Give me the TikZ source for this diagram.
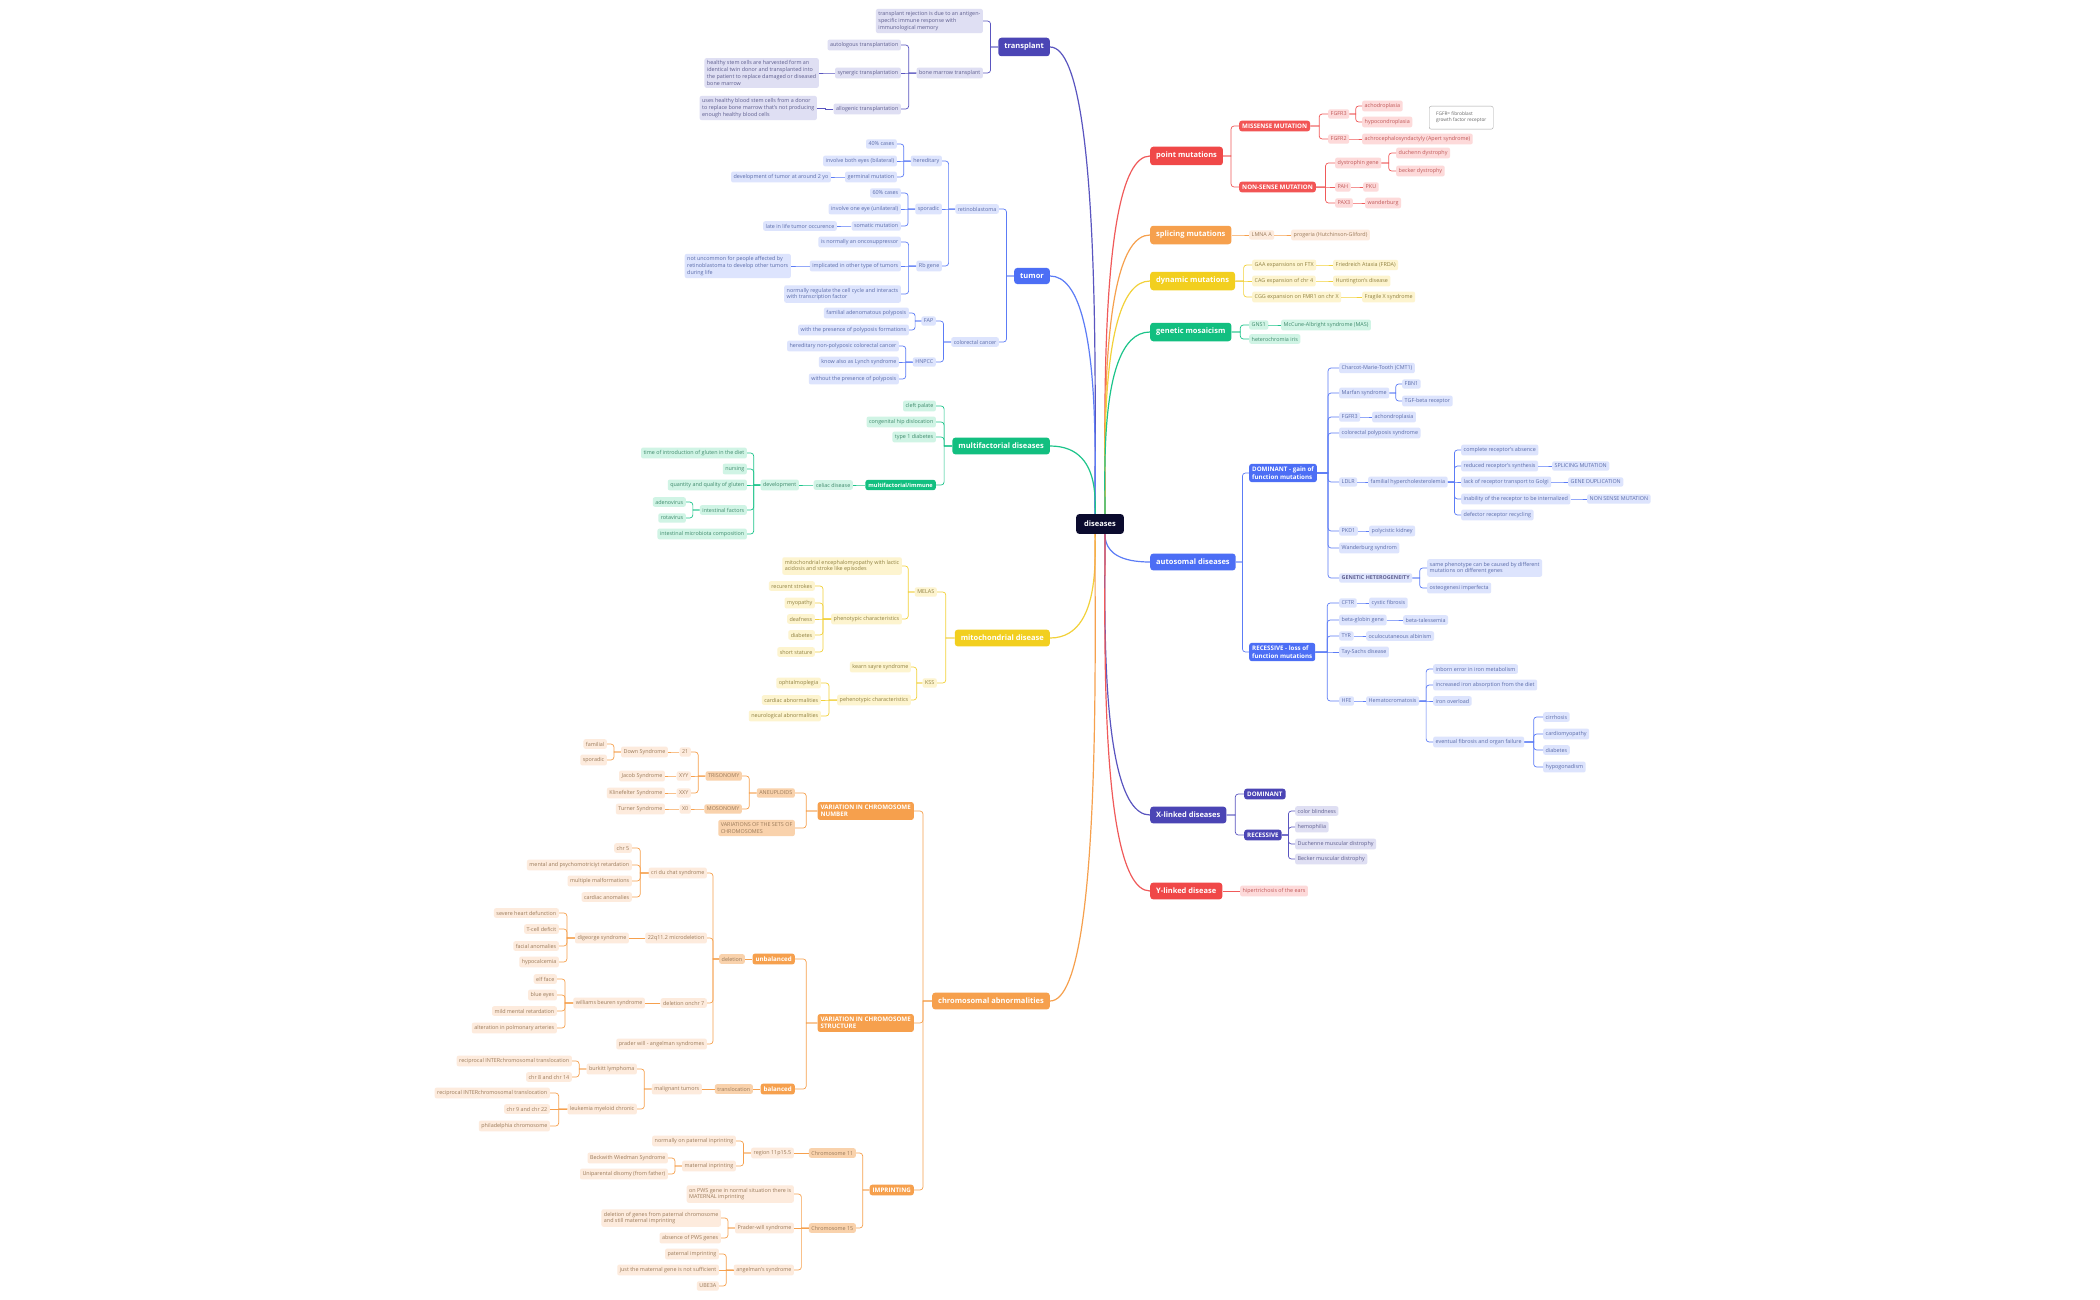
\documentclass[tikz,border=0pt]{standalone}
\usepackage{fontspec}
\setmainfont{Open Sans}
\usetikzlibrary{calc}
\definecolor{Pm}{HTML}{4B45B5}\definecolor{Pf}{HTML}{DFDFF3}\definecolor{Pt}{HTML}{5E5E8E}\definecolor{Pc}{HTML}{5A55C0}
\definecolor{Bm}{HTML}{4C6EF5}\definecolor{Bf}{HTML}{DDE4FD}\definecolor{Bt}{HTML}{5A6BA8}\definecolor{Bc}{HTML}{5C7CF6}
\definecolor{Rm}{HTML}{F04848}\definecolor{Rs}{HTML}{F25555}\definecolor{Rf}{HTML}{FDDADA}\definecolor{Rt}{HTML}{C05858}\definecolor{Rc}{HTML}{F05A5A}
\definecolor{Om}{HTML}{F6A04D}\definecolor{Omid}{HTML}{F9D2AC}\definecolor{Of}{HTML}{FDEBDD}\definecolor{Ot}{HTML}{9A7A5A}\definecolor{Oc}{HTML}{F6A04D}
\definecolor{Ym}{HTML}{F2CF1F}\definecolor{Yf}{HTML}{FDF4CF}\definecolor{Yt}{HTML}{8F8040}\definecolor{Yc}{HTML}{F2D13A}
\definecolor{Gm}{HTML}{12BF80}\definecolor{Gf}{HTML}{D0F4E5}\definecolor{Gt}{HTML}{3F8A6C}\definecolor{Gc}{HTML}{1CC48A}
\definecolor{Dk}{HTML}{0B0B2E}
\newcommand\NL[4]{\node[#1,anchor=east] (#2) at (#3) {#4};}
\newcommand\NR[4]{\node[#1,anchor=west] (#2) at (#3) {#4};}
\newcommand\CL[3]{\draw[#1] let \p1=(#2.west),\p2=(#3.east),\n1={abs(\y1-\y2)<1.5?0:3} in (\p1) -- ({(\x1+\x2)/2},\y1) [rounded corners=\n1] -- ({(\x1+\x2)/2},\y2) -- (\p2);}
\newcommand\CR[3]{\draw[#1] let \p1=(#2.east),\p2=(#3.west),\n1={abs(\y1-\y2)<1.5?0:3} in (\p1) -- ({(\x1+\x2)/2},\y1) [rounded corners=\n1] -- ({(\x1+\x2)/2},\y2) -- (\p2);}
\tikzset{
 base/.style={rounded corners=2pt,inner xsep=2.5pt,inner ysep=2.7pt,font=\fontsize{5.4}{6.7}\selectfont,align=left},
 mainn/.style={rounded corners=3pt,inner xsep=6pt,inner ysep=5.5pt,font=\fontsize{7.5}{9}\selectfont\bfseries,text=white},
 strong/.style={rounded corners=2.5pt,inner xsep=3pt,inner ysep=3pt,font=\fontsize{6.2}{7.4}\selectfont\bfseries,text=white,align=left},
 P/.style={base,fill=Pf,text=Pt}, B/.style={base,fill=Bf,text=Bt}, R/.style={base,fill=Rf,text=Rt},
 O/.style={base,fill=Of,text=Ot}, OM/.style={base,fill=Omid,text=Ot}, Y/.style={base,fill=Yf,text=Yt}, G/.style={base,fill=Gf,text=Gt},
 pl/.style={draw=Pc,line width=0.7pt}, bl/.style={draw=Bc,line width=0.7pt},
 rl/.style={draw=Rc,line width=0.7pt}, ol/.style={draw=Oc,line width=0.7pt},
 yl/.style={draw=Yc,line width=0.7pt}, gl/.style={draw=Gc,line width=0.7pt},
 curve/.style={line width=1.2pt},
}
\begin{document}
\begin{tikzpicture}[x=1pt,y=-1pt]
\useasboundingbox[fill=white] (0,0) rectangle (2100,1300);
% ---------- main nodes
\NL{mainn,fill=Pm}{tr}{1050,47}{transplant}
\NL{mainn,fill=Bm}{tu}{1050,276}{tumor}
\NL{mainn,fill=Gm}{mf}{1050,446}{multifactorial diseases}
\NL{mainn,fill=Ym}{mi}{1050,638}{mitochondrial disease}
\NL{mainn,fill=Om}{ch}{1050,1001}{chromosomal abnormalities}
\NR{mainn,fill=Rm}{pm}{1150,156}{point mutations}
\NR{mainn,fill=Om}{sp}{1150,235}{splicing mutations}
\NR{mainn,fill=Ym}{dy}{1150,281}{dynamic mutations}
\NR{mainn,fill=Gm}{gm}{1150,332}{genetic mosaicism}
\NR{mainn,fill=Bm}{au}{1150,562}{autosomal diseases}
\NR{mainn,fill=Pm}{xl}{1150,815}{X-linked diseases}
\NR{mainn,fill=Rm}{yl}{1150,891}{Y-linked disease}
\coordinate (DL) at (1096,524); \coordinate (DR) at (1104,524);
\foreach \n/\c in {tr/Pc,tu/Bc,mf/Gc,mi/Yc,ch/Om}
 \draw[curve,draw=\c] (DL) .. controls +(-5,0) and +(60,0) .. (\n.east);
\foreach \n/\c in {pm/Rc,sp/Om,dy/Yc,gm/Gc,au/Bc,xl/Pc,yl/Rc}
 \draw[curve,draw=\c] (DR) .. controls +(5,0) and +(-60,0) .. (\n.west);
\node[mainn,fill=Dk,inner xsep=8pt,inner ysep=7pt] (D) at (1100,524) {diseases};
% ---------- transplant
\NL{P}{tr1}{983,21}{transplant rejection is due to an antigen-\\specific immune response with\\immunological memory}
\NL{P}{tr2}{983,73}{bone marrow transplant}
\NL{P}{tr3}{901,45}{autologous transplantation}
\NL{P}{tr4}{901,73}{synergic transplantation}
\NL{P}{tr5}{901,109}{allogenic transplantation}
\NL{P}{tr6}{819,73}{healthy stem cells are harvested form an\\identical twin donor and transplanted into\\the patient to replace damaged or diseased\\bone marrow}
\NL{P}{tr7}{817,108}{uses healthy blood stem cells from a donor\\to replace bone marrow that's not producing\\enough healthy blood cells}
\CL{pl}{tr}{tr1}\CL{pl}{tr}{tr2}\CL{pl}{tr2}{tr3}\CL{pl}{tr2}{tr4}\CL{pl}{tr2}{tr5}\CL{pl}{tr4}{tr6}\CL{pl}{tr5}{tr7}
% ---------- tumor
\NL{B}{rb}{999,209}{retinoblastoma}
\NL{B}{cc}{999,342}{colorectal cancer}
\NL{B}{he}{942,161}{hereditary}
\NL{B}{so}{942,209}{sporadic}
\NL{B}{rg}{942,266}{Rb gene}
\NL{B}{h1}{897,144}{40\% cases}
\NL{B}{h2}{897,161}{involve both eyes (bilateral)}
\NL{B}{h3}{897,177}{germinal mutation}
\NL{B}{h4}{831,177}{development of tumor at around 2 yo}
\NL{B}{s1}{901,193}{60\% cases}
\NL{B}{s2}{901,209}{involve one eye (unilateral)}
\NL{B}{s3}{901,226}{somatic mutation}
\NL{B}{s4}{837,226}{late in life tumor occurence}
\NL{B}{r1}{901,242}{is normally an oncosuppressor}
\NL{B}{r2}{901,266}{implicated in other type of tumors}
\NL{B}{r3}{901,294}{normally regulate the cell cycle and interacts\\with transcription factor}
\NL{B}{r4}{791,266}{not uncommon for people affected by\\retinoblastoma to develop other tumors\\during life}
\NL{B}{fap}{936,321}{FAP}
\NL{B}{hn}{936,362}{HNPCC}
\NL{B}{f1}{909,313}{familial adenomatous polyposis}
\NL{B}{f2}{909,330}{with the presence of polyposis formations}
\NL{B}{n1}{899,346}{hereditary non-polyposic colorectal cancer}
\NL{B}{n2}{899,362}{know also as Lynch syndrome}
\NL{B}{n3}{899,379}{without the presence of polyposis}
\CL{bl}{tu}{rb}\CL{bl}{tu}{cc}\CL{bl}{rb}{he}\CL{bl}{rb}{so}\CL{bl}{rb}{rg}
\CL{bl}{he}{h1}\CL{bl}{he}{h2}\CL{bl}{he}{h3}\CL{bl}{h3}{h4}
\CL{bl}{so}{s1}\CL{bl}{so}{s2}\CL{bl}{so}{s3}\CL{bl}{s3}{s4}
\CL{bl}{rg}{r1}\CL{bl}{rg}{r2}\CL{bl}{rg}{r3}\CL{bl}{r2}{r4}
\CL{bl}{cc}{fap}\CL{bl}{cc}{hn}\CL{bl}{fap}{f1}\CL{bl}{fap}{f2}\CL{bl}{hn}{n1}\CL{bl}{hn}{n2}\CL{bl}{hn}{n3}
% ---------- multifactorial
\NL{G}{m1}{936,406}{cleft palate}
\NL{G}{m2}{936,422}{congenital hip dislocation}
\NL{G}{m3}{936,437}{type 1 diabetes}
\NL{strong,fill=Gm,font=\fontsize{5.6}{7}\selectfont\bfseries}{mim}{936,485}{multifactorial/immune}
\NL{G}{cel}{853,485}{celiac disease}
\NL{G}{dev}{799,485}{development}
\NL{G}{d1}{747,453}{time of introduction of gluten in the diet}
\NL{G}{d2}{747,469}{nursing}
\NL{G}{d3}{747,485}{quantity and quality of gluten}
\NL{G}{d4}{747,510}{intestinal factors}
\NL{G}{d5}{747,534}{intestinal microbiota composition}
\NL{G}{ad}{686,502}{adenovirus}
\NL{G}{ro}{686,518}{rotavirus}
\CL{gl}{mf}{m1}\CL{gl}{mf}{m2}\CL{gl}{mf}{m3}\CL{gl}{mf}{mim}\CL{gl}{mim}{cel}\CL{gl}{cel}{dev}
\CL{gl}{dev}{d1}\CL{gl}{dev}{d2}\CL{gl}{dev}{d3}\CL{gl}{dev}{d4}\CL{gl}{dev}{d5}\CL{gl}{d4}{ad}\CL{gl}{d4}{ro}
% ---------- mitochondrial
\NL{Y}{mel}{937,592}{MELAS}
\NL{Y}{kss}{937,683}{KSS}
\NL{Y}{me1}{902,566}{mitochondrial encephalomyopathy with lactic\\acidosis and stroke like episodes}
\NL{Y}{me2}{902,619}{phenotypic characteristics}
\NL{Y}{p1}{815,586}{recurent strokes}
\NL{Y}{p2}{815,603}{myopathy}
\NL{Y}{p3}{815,619}{deafness}
\NL{Y}{p4}{815,635}{diabetes}
\NL{Y}{p5}{815,652}{short stature}
\NL{Y}{k1}{911,667}{kearn sayre syndrome}
\NL{Y}{k2}{911,700}{pehenotypic characteristics}
\NL{Y}{q1}{821,683}{ophtalmoplegia}
\NL{Y}{q2}{821,700}{cardiac abnormalities}
\NL{Y}{q3}{821,716}{neurological abnormalities}
\CL{yl}{mi}{mel}\CL{yl}{mi}{kss}\CL{yl}{mel}{me1}\CL{yl}{mel}{me2}
\foreach \i in {1,...,5}{\CL{yl}{me2}{p\i}}
\CL{yl}{kss}{k1}\CL{yl}{kss}{k2}\CL{yl}{k2}{q1}\CL{yl}{k2}{q2}\CL{yl}{k2}{q3}
% ---------- chromosomal
\NL{strong,fill=Om}{vn}{914,811}{VARIATION IN CHROMOSOME\\NUMBER}
\NL{strong,fill=Om}{vs}{914,1023}{VARIATION IN CHROMOSOME\\STRUCTURE}
\NL{strong,fill=Om}{imp}{914,1190}{IMPRINTING}
\NL{OM}{an}{795,793}{ANEUPLOIDS}
\NL{OM}{vset}{795,828}{VARIATIONS OF THE SETS OF\\CHROMOSOMES}
\NL{OM}{tri}{742,776}{TRISONOMY}
\NL{OM}{mos}{742,809}{MOSONOMY}
\NL{O}{c21}{691,752}{21}
\NL{O}{xyy}{691,776}{XYY}
\NL{O}{xxy}{691,793}{XXY}
\NL{O}{x0}{691,809}{X0}
\NL{O}{dow}{668,752}{Down Syndrome}
\NL{O}{jac}{665,776}{Jacob Syndrome}
\NL{O}{kli}{665,793}{Klinefelter Syndrome}
\NL{O}{tur}{665,809}{Turner Syndrome}
\NL{O}{fam}{607,744}{familial}
\NL{O}{spo}{607,760}{sporadic}
\CL{ol}{ch}{vn}\CL{ol}{ch}{vs}\CL{ol}{ch}{imp}\CL{ol}{vn}{an}\CL{ol}{vn}{vset}\CL{ol}{an}{tri}\CL{ol}{an}{mos}
\CL{ol}{tri}{c21}\CL{ol}{tri}{xyy}\CL{ol}{tri}{xxy}\CL{ol}{mos}{x0}
\CL{ol}{c21}{dow}\CL{ol}{xyy}{jac}\CL{ol}{xxy}{kli}\CL{ol}{x0}{tur}\CL{ol}{dow}{fam}\CL{ol}{dow}{spo}
\NL{strong,fill=Om}{unb}{795,959}{unbalanced}
\NL{strong,fill=Om}{bal}{795,1089}{balanced}
\NL{OM}{del}{745,959}{deletion}
\NL{O}{cri}{707,873}{cri du chat syndrome}
\NL{O}{q22}{707,938}{22q11.2 microdeletion}
\NL{O}{d7}{707,1003}{deletion onchr 7}
\NL{O}{pwa}{707,1044}{prader will - angelman syndromes}
\NL{O}{c1}{632,848}{chr 5}
\NL{O}{c2}{632,865}{mental and psychomotriciyt retardation}
\NL{O}{c3}{632,881}{multiple malformations}
\NL{O}{c4}{632,897}{cardiac anomalies}
\NL{O}{dig}{629,938}{digeorge syndrome}
\NL{O}{g1}{559,913}{severe heart defunction}
\NL{O}{g2}{559,929}{T-cell deficit}
\NL{O}{g3}{559,946}{facial anomalies}
\NL{O}{g4}{559,962}{hypocalcemia}
\NL{O}{wil}{645,1003}{williams beuren syndrome}
\NL{O}{w1}{557,979}{elf face}
\NL{O}{w2}{557,995}{blue eyes}
\NL{O}{w3}{557,1011}{mild mental retardation}
\NL{O}{w4}{557,1028}{alteration in polmonary arteries}
\CL{ol}{vs}{unb}\CL{ol}{vs}{bal}\CL{ol}{unb}{del}
\CL{ol}{del}{cri}\CL{ol}{del}{q22}\CL{ol}{del}{d7}\CL{ol}{del}{pwa}
\foreach \i in {1,...,4}{\CL{ol}{cri}{c\i}\CL{ol}{dig}{g\i}\CL{ol}{wil}{w\i}}
\CL{ol}{q22}{dig}\CL{ol}{d7}{wil}
\NL{OM}{trl}{753,1089}{translocation}
\NL{O}{mal}{702,1089}{malignant tumors}
\NL{O}{bur}{637,1069}{burkitt lymphoma}
\NL{O}{leu}{637,1109}{leukemia myeloid chronic}
\NL{O}{b1}{572,1061}{reciprocal INTERchromosomal translocation}
\NL{O}{b2}{572,1077}{chr 8 and chr 14}
\NL{O}{l1}{550,1093}{reciprocal INTERchromosomal translocation}
\NL{O}{l2}{550,1109}{chr 9 and chr 22}
\NL{O}{l3}{550,1126}{philadelphia chromosome}
\CL{ol}{bal}{trl}\CL{ol}{trl}{mal}\CL{ol}{mal}{bur}\CL{ol}{mal}{leu}\CL{ol}{bur}{b1}\CL{ol}{bur}{b2}
\CL{ol}{leu}{l1}\CL{ol}{leu}{l2}\CL{ol}{leu}{l3}
\NL{OM}{c11}{856,1153}{Chromosome 11}
\NL{OM}{c15}{856,1228}{Chromosome 15}
\NL{O}{reg}{794,1153}{region 11p15.5}
\NL{O}{np}{736,1141}{normally on paternal inprinting}
\NL{O}{mat}{736,1166}{maternal inprinting}
\NL{O}{bw}{668,1158}{Beckwith Wiedman Syndrome}
\NL{O}{ud}{668,1174}{Uniparental disomy (from father)}
\NL{O}{pws}{794,1194}{on PWS gene in normal situation there is\\MATERNAL imprinting}
\NL{O}{pra}{794,1228}{Prader-will syndrome}
\NL{O}{ang}{794,1270}{angelman's syndrome}
\NL{O}{dg}{721,1218}{deletion of genes from paternal chromosome\\and still maternal imprinting}
\NL{O}{abs}{721,1238}{absence of PWS genes}
\NL{O}{pi}{719,1254}{paternal imprinting}
\NL{O}{jm}{719,1270}{just the maternal gene is not sufficient}
\NL{O}{ube}{719,1286}{UBE3A}
\CL{ol}{imp}{c11}\CL{ol}{imp}{c15}\CL{ol}{c11}{reg}\CL{ol}{reg}{np}\CL{ol}{reg}{mat}\CL{ol}{mat}{bw}\CL{ol}{mat}{ud}
\CL{ol}{c15}{pws}\CL{ol}{c15}{pra}\CL{ol}{c15}{ang}\CL{ol}{pra}{dg}\CL{ol}{pra}{abs}
\CL{ol}{ang}{pi}\CL{ol}{ang}{jm}\CL{ol}{ang}{ube}
% ---------- point mutations
\NR{strong,fill=Rs}{mis}{1239,126}{MISSENSE MUTATION}
\NR{strong,fill=Rs}{non}{1239,187}{NON-SENSE MUTATION}
\NR{R}{fg3}{1328,114}{FGFR3}
\NR{R}{fg2}{1328,139}{FGFR2}
\NR{R}{ach}{1362,106}{achodroplasia}
\NR{R}{hyp}{1362,122}{hypocondroplasia}
\NR{R}{ape}{1362,139}{achrocephalosyndactyly (Apert syndrome)}
\node[draw=gray!70,fill=white,rounded corners=2pt,font=\fontsize{4.8}{6}\selectfont,text=gray!80!black,align=left,anchor=north west,minimum width=64pt,minimum height=23pt,inner xsep=4pt] (note) at (1429,106) {FGFR= fibroblast\\growth factor receptor};
\NR{R}{dys}{1335,163}{dystrophin gene}
\NR{R}{duc}{1396,153}{duchenn dystrophy}
\NR{R}{bec}{1396,171}{becker dystrophy}
\NR{R}{pah}{1335,187}{PAH}
\NR{R}{pku}{1363,187}{PKU}
\NR{R}{pax}{1335,203}{PAX3}
\NR{R}{wan}{1365,203}{wanderburg}
\CR{rl}{pm}{mis}\CR{rl}{pm}{non}\CR{rl}{mis}{fg3}\CR{rl}{mis}{fg2}\CR{rl}{fg3}{ach}\CR{rl}{fg3}{hyp}\CR{rl}{fg2}{ape}
\CR{rl}{non}{dys}\CR{rl}{non}{pah}\CR{rl}{non}{pax}\CR{rl}{dys}{duc}\CR{rl}{dys}{bec}\CR{rl}{pah}{pku}\CR{rl}{pax}{wan}
% splicing / dynamic / mosaic
\NR{O}{lm}{1249,235}{LMNA A}
\NR{O}{pro}{1291,235}{progeria (Hutchinson-Gliford)}
\CR{ol}{sp}{lm}\CR{ol}{lm}{pro}
\NR{Y}{ga}{1252,265}{GAA expansions on FTX}
\NR{Y}{ca}{1252,281}{CAG expansion of chr 4}
\NR{Y}{cg}{1252,297}{CGG expansion on FMR1 on chr X}
\NR{Y}{fr}{1333,265}{Friedreich Ataxia (FRDA)}
\NR{Y}{hu}{1333,281}{Huntington's disease}
\NR{Y}{fx}{1362,297}{Fragile X syndrome}
\CR{yl}{dy}{ga}\CR{yl}{dy}{ca}\CR{yl}{dy}{cg}\CR{yl}{ga}{fr}\CR{yl}{ca}{hu}\CR{yl}{cg}{fx}
\NR{G}{gn}{1249,325}{GNS1}
\NR{G}{mas}{1281,325}{McCune-Albright syndrome (MAS)}
\NR{G}{het}{1249,339}{heterochromia iris}
\CR{gl}{gm}{gn}\CR{gl}{gm}{het}\CR{gl}{gn}{mas}
% ---------- autosomal
\NR{strong,fill=Bm}{dom}{1249,473}{DOMINANT - gain of\\function mutations}
\NR{strong,fill=Bm}{rec}{1249,652}{RECESSIVE - loss of\\function mutations}
\NR{B}{a1}{1339,368}{Charcot-Marie-Tooth (CMT1)}
\NR{B}{a2}{1339,393}{Marfan syndrome}
\NR{B}{fbn}{1402,384}{FBN1}
\NR{B}{tgf}{1402,401}{TGF-beta receptor}
\NR{B}{a3}{1339,417}{FGFR3}
\NR{B}{acd}{1372,417}{achondroplasia}
\NR{B}{a4}{1339,433}{colorectal polyposis syndrome}
\NR{B}{a5}{1339,482}{LDLR}
\NR{B}{fh}{1368,482}{familial hypercholesterolemia}
\NR{B}{e1}{1461,450}{complete receptor's absence}
\NR{B}{e2}{1461,466}{reduced receptor's synthesis}
\NR{B}{e3}{1461,482}{lack of receptor transport to Golgi}
\NR{B}{e4}{1461,499}{inability of the receptor to be internalized}
\NR{B}{e5}{1461,515}{defector receptor recycling}
\NR{B}{sm}{1552,466}{SPLICING MUTATION}
\NR{B}{gd}{1568,482}{GENE DUPLICATION}
\NR{B}{nsm}{1587,499}{NON SENSE MUTATION}
\NR{B}{a6}{1339,531}{PKD1}
\NR{B}{pk}{1369,531}{polycistic kidney}
\NR{B}{a7}{1339,548}{Wanderburg syndrom}
\NR{B,font=\fontsize{5.4}{6.7}\selectfont\bfseries,text=Pt}{a8}{1339,578}{GENETIC HETEROGENEITY}
\NR{B}{gh1}{1427,568}{same phenotype can be caused by different\\mutations on different genes}
\NR{B}{gh2}{1427,588}{osteogenesi imperfecta}
\CR{bl}{au}{dom}\CR{bl}{au}{rec}
\foreach \i in {1,...,8}{\CR{bl}{dom}{a\i}}
\CR{bl}{a2}{fbn}\CR{bl}{a2}{tgf}\CR{bl}{a3}{acd}\CR{bl}{a5}{fh}\CR{bl}{a6}{pk}\CR{bl}{a8}{gh1}\CR{bl}{a8}{gh2}
\foreach \i in {1,...,5}{\CR{bl}{fh}{e\i}}
\CR{bl}{e2}{sm}\CR{bl}{e3}{gd}\CR{bl}{e4}{nsm}
\NR{B}{b1r}{1339,603}{CFTR}
\NR{B}{cf}{1369,603}{cystic fibrosis}
\NR{B}{b2r}{1339,620}{beta-globin gene}
\NR{B}{bt}{1403,620}{beta-talessemia}
\NR{B}{b3r}{1339,636}{TYR}
\NR{B}{oa}{1366,636}{oculocutaneous albinism}
\NR{B}{b4r}{1339,652}{Tay-Sachs disease}
\NR{B}{b5r}{1339,701}{HFE}
\NR{B}{hem}{1366,701}{Hematocromatosis}
\NR{B}{i1}{1433,669}{inborn error in iron metabolism}
\NR{B}{i2}{1433,685}{increased iron absorption from the diet}
\NR{B}{i3}{1433,701}{iron overload}
\NR{B}{i4}{1433,742}{eventual fibrosis and organ failure}
\NR{B}{o1}{1543,717}{cirrhosis}
\NR{B}{o2}{1543,734}{cardiomyopathy}
\NR{B}{o3}{1543,750}{diabetes}
\NR{B}{o4}{1543,767}{hypogonadism}
\foreach \i in {1,...,5}{\CR{bl}{rec}{b\i r}}
\CR{bl}{b1r}{cf}\CR{bl}{b2r}{bt}\CR{bl}{b3r}{oa}\CR{bl}{b5r}{hem}
\foreach \i in {1,...,4}{\CR{bl}{hem}{i\i}\CR{bl}{i4}{o\i}}
% ---------- X / Y linked
\NR{strong,fill=Pm}{xd}{1244,794}{DOMINANT}
\NR{strong,fill=Pm}{xr}{1244,835}{RECESSIVE}
\NR{P}{x1}{1295,811}{color blindness}
\NR{P}{x2}{1295,827}{hemophilia}
\NR{P}{x3}{1295,844}{Duchenne muscular distrophy}
\NR{P}{x4}{1295,859}{Becker muscular distrophy}
\CR{pl}{xl}{xd}\CR{pl}{xl}{xr}
\foreach \i in {1,...,4}{\CR{pl}{xr}{x\i}}
\NR{R}{hip}{1240,891}{hipertrichosis of the ears}
\CR{rl}{yl}{hip}
\end{tikzpicture}
\end{document}
